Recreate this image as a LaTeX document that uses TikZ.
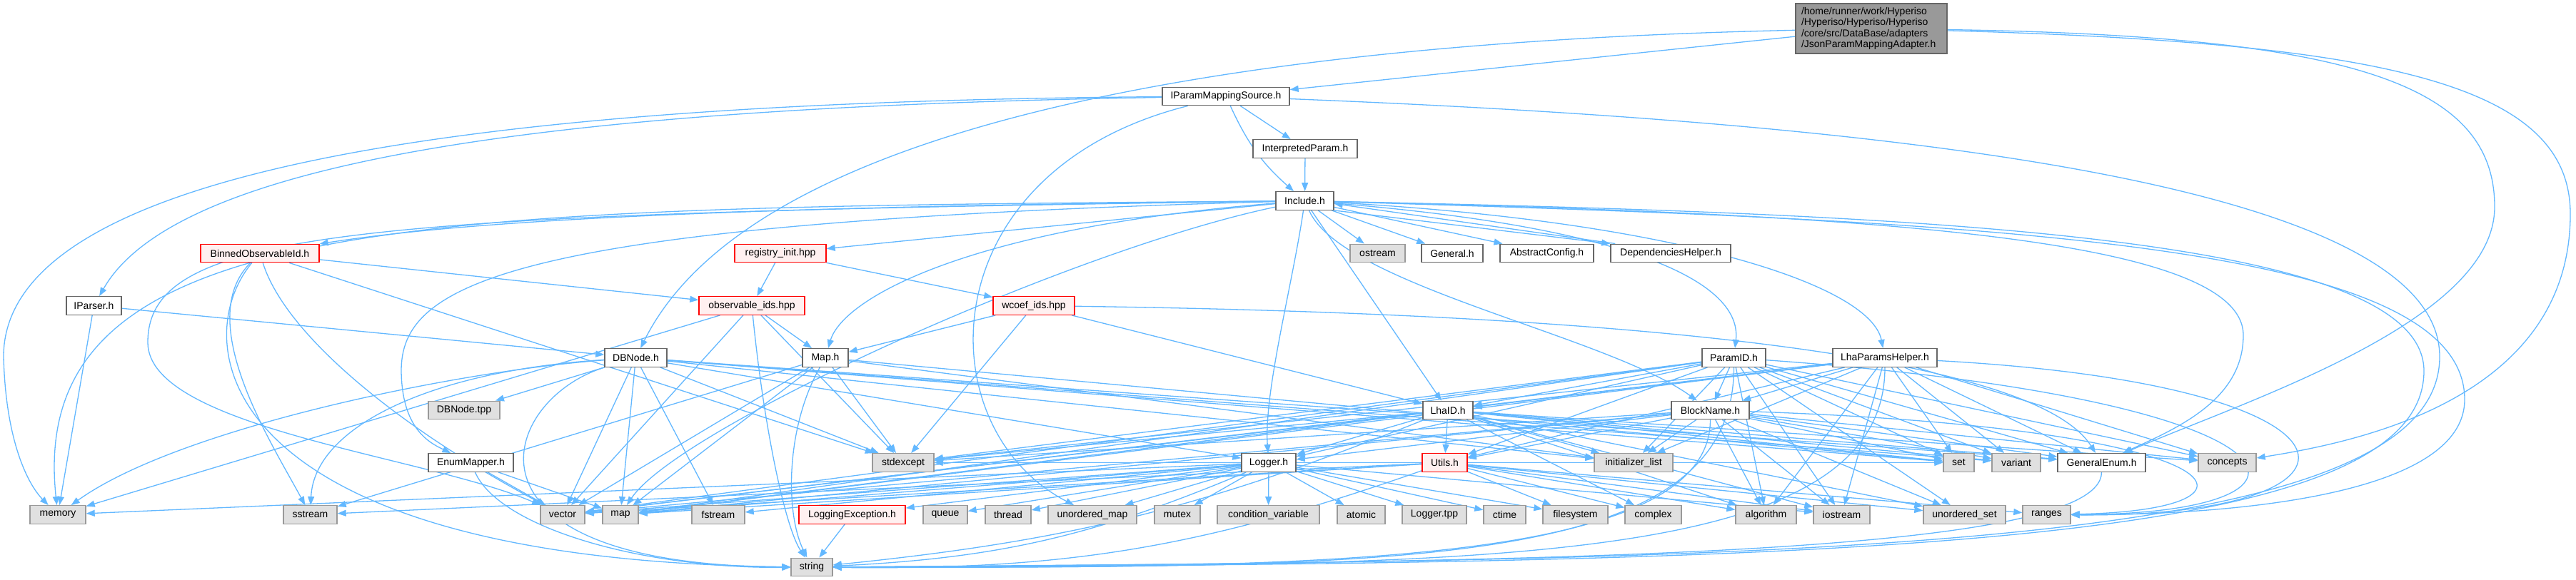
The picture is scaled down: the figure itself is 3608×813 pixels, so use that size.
\documentclass[tikz,border=0pt]{standalone}
\usepackage{fontspec}
\setmainfont{Liberation Sans}
\usetikzlibrary{arrows.meta}
\pgfdeclarelayer{bg}
\pgfsetlayers{bg,main}
\definecolor{edgec}{HTML}{63B8FF}
\definecolor{bordc}{HTML}{666666}
\definecolor{extfill}{HTML}{E0E0E0}
\definecolor{extdraw}{HTML}{999999}
\definecolor{redfill}{HTML}{FFF0F0}
\definecolor{redline}{HTML}{FF0000}
\definecolor{rootfill}{HTML}{999999}
\tikzset{
 nb/.style={draw=bordc, fill=white, line width=1.4pt, minimum height=25.5pt, inner sep=0pt, font=\fontsize{14}{16}\selectfont},
 ext/.style={nb, draw=extdraw, fill=extfill},
 redb/.style={nb, draw=redline, fill=redfill},
 rootb/.style={nb, fill=rootfill, align=left, font=\fontsize{14}{15.5}\selectfont, minimum height=70pt, text width=196pt},
 ed/.style={draw=edgec, line width=1.3pt, -{Triangle[length=12pt,width=9pt]}},
}
\begin{document}
\begin{tikzpicture}[x=1pt,y=1pt]
\path[use as bounding box] (0,0) rectangle (3608,-813);
\begin{pgfonlayer}{bg}
\fill[white] (0,0) rectangle (3608,-813);
\end{pgfonlayer}
% nodes
\node[rootb, minimum width=212pt] (root) at (2621,-40) {/home/runner/work/Hyperiso\\/Hyperiso/Hyperiso/Hyperiso\\/core/src/DataBase/adapters\\/JsonParamMappingAdapter.h};
\node[nb, minimum width=178pt] (ipms) at (1717,-135) {IParamMappingSource.h};
\node[nb, minimum width=146pt] (interp) at (1828,-208.5) {InterpretedParam.h};
\node[nb, minimum width=81pt] (incl) at (1827.5,-281.5) {Include.h};
\node[redb, minimum width=166pt] (binned) at (364,-355) {BinnedObservableId.h};
\node[redb, minimum width=128pt] (reginit) at (1093,-355) {registry\_init.hpp};
\node[ext, minimum width=77pt] (ostream) at (1929.5,-355) {ostream};
\node[nb, minimum width=86pt] (general) at (2034,-355) {General.h};
\node[nb, minimum width=131pt] (absconf) at (2166.5,-355) {AbstractConfig.h};
\node[nb, minimum width=168pt] (dephelp) at (2340,-355) {DependenciesHelper.h};
\node[nb, minimum width=77pt] (iparser) at (131.5,-428.5) {IParser.h};
\node[redb, minimum width=148pt] (obsids) at (1053,-428.5) {observable\_ids.hpp};
\node[redb, minimum width=114pt] (wcoef) at (1448,-428.5) {wcoef\_ids.hpp};
\node[nb, minimum width=87pt] (dbnode) at (890.5,-501.5) {DBNode.h};
\node[nb, minimum width=64pt] (maph) at (1156,-501.5) {Map.h};
\node[nb, minimum width=89pt] (paramid) at (2428.5,-501.5) {ParamID.h};
\node[nb, minimum width=146pt] (lhaph) at (2640,-501.5) {LhaParamsHelper.h};
\node[ext, minimum width=100pt] (dbtpp) at (650,-575) {DBNode.tpp};
\node[nb, minimum width=70pt] (lhaid) at (2028,-575) {LhaID.h};
\node[nb, minimum width=109pt] (blockname) at (2395.5,-575) {BlockName.h};
\node[nb, minimum width=119pt] (enummap) at (659.5,-648.5) {EnumMapper.h};
\node[ext, minimum width=86pt] (stdexcept) at (1265,-648.5) {stdexcept};
\node[nb, minimum width=76pt] (logger) at (1777,-648.5) {Logger.h};
\node[redb, minimum width=63pt] (utils) at (2023.5,-648.5) {Utils.h};
\node[ext, minimum width=110pt] (initlist) at (2288,-648.5) {initializer\_list};
\node[ext, minimum width=43pt] (set) at (2743.5,-648.5) {set};
\node[ext, minimum width=68pt] (variant) at (2824,-648.5) {variant};
\node[nb, minimum width=123pt] (genenum) at (2943.5,-648.5) {GeneralEnum.h};
\node[ext, minimum width=81pt] (concepts) at (3119.5,-648.5) {concepts};
\node[ext, minimum width=78pt] (memory) at (81,-721.5) {memory};
\node[ext, minimum width=75pt] (sstream) at (434.5,-721.5) {sstream};
\node[ext, minimum width=62pt] (vector) at (788,-721.5) {vector};
\node[ext, minimum width=50pt] (map) at (869,-721.5) {map};
\node[ext, minimum width=74pt] (fstream) at (1006,-721.5) {fstream};
\node[redb, minimum width=149pt] (logexc) at (1193.5,-721.5) {LoggingException.h};
\node[ext, minimum width=62pt] (queue) at (1324,-721.5) {queue};
\node[ext, minimum width=64pt] (thread) at (1412,-721.5) {thread};
\node[ext, minimum width=124pt] (umap) at (1530,-721.5) {unordered\_map};
\node[ext, minimum width=64pt] (mutex) at (1649,-721.5) {mutex};
\node[ext, minimum width=143pt] (condvar) at (1776.5,-721.5) {condition\_variable};
\node[ext, minimum width=67pt] (atomic) at (1906.5,-721.5) {atomic};
\node[ext, minimum width=90pt] (loggertpp) at (2009,-721.5) {Logger.tpp};
\node[ext, minimum width=59pt] (ctime) at (2107.5,-721.5) {ctime};
\node[ext, minimum width=91pt] (filesystem) at (2206.5,-721.5) {filesystem};
\node[ext, minimum width=79pt] (complex) at (2315.5,-721.5) {complex};
\node[ext, minimum width=85pt] (algorithm) at (2473.5,-721.5) {algorithm};
\node[ext, minimum width=79pt] (iostream) at (2579.5,-721.5) {iostream};
\node[ext, minimum width=115pt] (uset) at (2751.5,-721.5) {unordered\_set};
\node[ext, minimum width=67pt] (ranges) at (2866.5,-721.5) {ranges};
\node[ext, minimum width=58pt] (string) at (1137,-795) {string};
% edges
\begin{pgfonlayer}{bg}
\foreach \s/\t in {root/ipms, ipms/interp, interp/incl, incl/ostream, incl/general, incl/absconf, incl/reginit, incl/lhaid,
 reginit/obsids, reginit/wcoef, binned/obsids, binned/stdexcept, iparser/dbnode, iparser/memory,
 dbnode/dbtpp, dbnode/vector, dbnode/map, dbnode/fstream, dbnode/stdexcept, dbnode/logger, dbnode/set, dbnode/variant, dbnode/genenum, dbnode/initlist,
 maph/vector, maph/map, maph/stdexcept, maph/sstream, maph/set, maph/initlist,
 obsids/maph, obsids/vector, obsids/stdexcept, obsids/memory, wcoef/maph, wcoef/stdexcept, wcoef/lhaid,
 enummap/vector, enummap/map, logexc/string,
 logger/logexc, logger/queue, logger/thread, logger/umap, logger/mutex, logger/condvar, logger/atomic, logger/loggertpp, logger/ctime, logger/fstream, logger/memory, logger/vector, logger/map, logger/iostream, logger/filesystem,
 utils/vector, utils/map, utils/sstream, utils/filesystem, utils/complex, utils/algorithm, utils/iostream, utils/ranges, utils/uset, utils/stdexcept, utils/set,
 lhaid/utils, lhaid/logger, lhaid/stdexcept, lhaid/initlist, lhaid/set, lhaid/variant, lhaid/genenum, lhaid/concepts, lhaid/algorithm, lhaid/iostream, lhaid/complex, lhaid/vector, lhaid/map, lhaid/uset,
 blockname/utils, blockname/logger, blockname/initlist, blockname/set, blockname/variant, blockname/genenum, blockname/concepts, blockname/algorithm, blockname/iostream, blockname/uset, blockname/vector, blockname/map, blockname/stdexcept,
 paramid/blockname, paramid/lhaid, paramid/utils, paramid/logger, paramid/stdexcept, paramid/initlist, paramid/set, paramid/variant, paramid/genenum, paramid/concepts, paramid/algorithm, paramid/iostream, paramid/uset, paramid/vector, paramid/map,
 lhaph/blockname, lhaph/lhaid, lhaph/utils, lhaph/initlist, lhaph/set, lhaph/variant, lhaph/genenum, lhaph/concepts, lhaph/algorithm, lhaph/iostream, lhaph/map, lhaph/vector, lhaph/stdexcept}
 \draw[ed] (\s) -- (\t);
\draw[ed] (incl.south east) -- (dephelp.north west);
\draw[ed] ([xshift=7pt]dephelp.north west) -- ([yshift=-4pt]incl.east);
% curved edges
\draw[ed] (root) .. controls (1700,-60) and (1050,-180) .. (dbnode);
\draw[ed] (ipms) to[bend right=12] (incl);
\draw[ed] (ipms) .. controls (800,-150) and (250,-220) .. (iparser);
\draw[ed] (ipms) .. controls (700,-142) and (5,-230) .. (5,-500) .. controls (8,-620) and (40,-680) .. (memory);
\draw[ed] (ipms) .. controls (1300,-240) and (1296,-600) .. (umap);
\draw[ed] (incl) .. controls (1000,-290) and (650,-310) .. (binned);
\draw[ed] (incl) .. controls (600,-292) and (35,-290) .. (memory);
\draw[ed] (incl) .. controls (700,-312) and (562,-400) .. (562,-520) .. controls (563,-600) and (600,-620) .. (enummap);
\draw[ed] (incl) .. controls (1350,-320) and (1180,-420) .. (maph);
\draw[ed] (incl) .. controls (2300,-320) and (2440,-400) .. (paramid);
\draw[ed] (incl) .. controls (2350,-310) and (2620,-400) .. (lhaph);
\draw[ed] (incl) .. controls (1810,-400) and (1770,-550) .. (logger);
\draw[ed] (incl) .. controls (1880,-400) and (2250,-470) .. (blockname);
\draw[ed] (incl) .. controls (500,-300) and (207,-320) .. (207,-480) .. controls (207,-600) and (600,-640) .. (vector);
\draw[ed] (incl) .. controls (1500,-350) and (950,-600) .. (map);
\draw[ed] (incl) .. controls (2600,-300) and (3142,-330) .. (3142,-470) .. controls (3142,-560) and (3050,-600) .. (genenum);
\draw[ed] (incl) .. controls (2700,-300) and (3395,-330) .. (3395,-520) .. controls (3395,-770) and (2600,-790) .. (string);
\draw[ed] (incl) .. controls (2800,-310) and (3452,-340) .. (3452,-560) .. controls (3452,-700) and (3100,-722) .. (ranges);
\draw[ed] (ipms) .. controls (2600,-170) and (3417,-250) .. (3417,-500) .. controls (3417,-780) and (2500,-785) .. (string);
\draw[ed] (root) .. controls (3300,-50) and (3494,-120) .. (3494,-290) .. controls (3494,-450) and (3150,-560) .. (genenum);
\draw[ed] (root) .. controls (3350,-60) and (3600,-120) .. (3600,-300) .. controls (3600,-560) and (3300,-620) .. (concepts);
\draw[ed] (wcoef) .. controls (2300,-440) and (2850,-500) .. (genenum);
\draw[ed] (binned) .. controls (270,-450) and (380,-620) .. (sstream);
\draw[ed] (binned) .. controls (260,-480) and (300,-785) .. (string);
\draw[ed] (binned) .. controls (400,-470) and (560,-600) .. (vector);
\draw[ed] (dbnode) .. controls (600,-520) and (440,-600) .. (sstream);
\draw[ed] (dbnode) .. controls (640,-520) and (250,-600) .. (memory);
\draw[ed] (dbnode) .. controls (700,-560) and (620,-792) .. (string);
\draw[ed] (enummap) .. controls (700,-740) and (900,-797) .. (string);
\draw[ed] (obsids) .. controls (1070,-600) and (1100,-740) .. (string);
\draw[ed] (maph) .. controls (1100,-600) and (1100,-720) .. (string);
\draw[ed] (blockname) .. controls (3150,-600) and (3200,-715) .. (ranges);
\draw[ed] (paramid) .. controls (3250,-560) and (3300,-720) .. (ranges);
\draw[ed] (lhaph) .. controls (3350,-540) and (3350,-725) .. (ranges);
\draw[ed] (paramid.south) .. controls (2428,-800) and (1966,-795) .. (string.east);
\draw[ed] (lhaph.south) .. controls (2640,-800) and (2066,-792) .. (string.east);
\draw[ed] (blockname.south) .. controls (2395,-790) and (1866,-797) .. (string.east);
\draw[ed] (genenum.south) .. controls (2943,-780) and (2166,-788) .. (string.east);
\draw[ed] (lhaid) to[bend left=8] (string);
\draw[ed] (utils) to[bend left=10] (string);
\draw[ed] (logger) to[bend left=10] (string);
\end{pgfonlayer}
\end{tikzpicture}
\end{document}
